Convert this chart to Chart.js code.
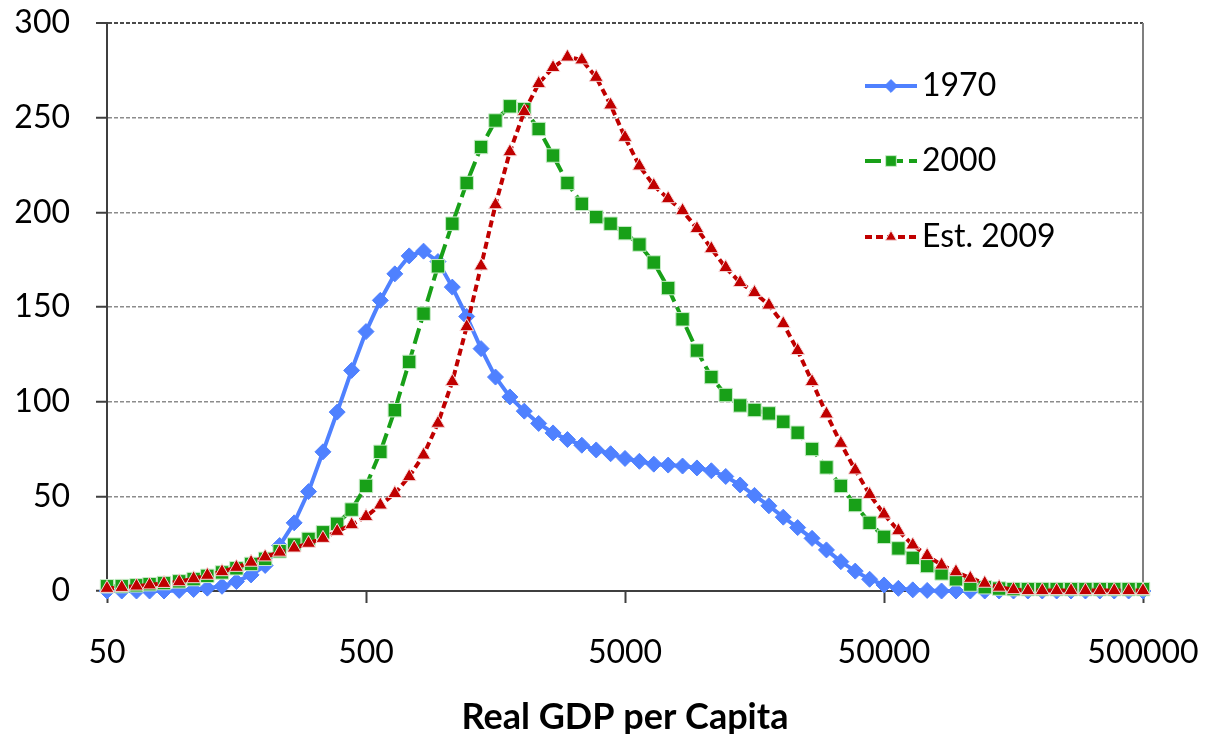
<!DOCTYPE html>
<html>
<head>
<meta charset="utf-8">
<title>Distribution of Real GDP per Capita</title>
<script src="https://cdn.jsdelivr.net/npm/chart.js@4.4.1/dist/chart.umd.min.js"></script>
<style>
  html, body { margin: 0; padding: 0; background: #ffffff; }
  #wrap { width: 1205px; height: 734px; position: relative; }
</style>
</head>
<body>
<div id="wrap"><canvas id="chart" width="1205" height="734"></canvas></div>
<script>
// Income levels (log-spaced, 18 steps per decade)
const gdpPerCapita = [
  50, 57, 65, 73, 83, 95, 108, 122, 139, 158, 180, 204, 232, 264, 300, 341, 387, 440,
  500, 568, 646, 734, 834, 948, 1077, 1224, 1391, 1581, 1797, 2042, 2321, 2637, 2997, 3406, 3871, 4400,
  5000, 5683, 6458, 7339, 8340, 9479, 10772, 12242, 13913, 15811, 17969, 20421, 23208, 26375, 29974, 34064, 38713, 43996,
  50000, 56826, 64575, 73389, 83405, 94787, 107722, 122421, 139128, 158114, 179691, 204212, 232079, 263748, 299740, 340641, 387128, 439959,
  500000
];

// Density of people at each income level
const density1970 = [
  0, 0, 0, 0, 0, 0.3, 0.8, 1.5, 2.5, 5, 8.5, 13.5, 24, 36, 52.5, 73.5, 94.5, 116.5,
  137, 153.5, 167.5, 177, 179.5, 174, 160.5, 145, 128, 113, 102.5, 95, 88.5, 83.5, 80, 77, 74.5, 72.5,
  70, 68.5, 67, 66.5, 66, 65, 63.5, 60.5, 56, 50.5, 45, 39, 33.5, 27.8, 21.7, 15.5, 10.5, 6.2,
  3.2, 1.4, 0.6, 0.3, 0, 0, 0, 0, 0, 0, 0, 0, 0, 0, 0, 0, 0, 0,
  0
];

const density2000 = [
  2.5, 2.6, 3.0, 3.6, 4.2, 5.1, 6.3, 8, 9.8, 12, 14.3, 17, 21, 24.5, 27.5, 31, 35.5, 43,
  55.5, 73.5, 95.5, 121, 146.5, 171.5, 194, 215.5, 234.5, 248.5, 256, 254.5, 244, 230, 215.5, 204.5, 197.5, 194,
  189, 183, 173.5, 160, 143.5, 127, 113, 103.5, 98, 95.6, 93.8, 89.4, 83.6, 75, 65.3, 55.5, 45.4, 36,
  28.6, 22.5, 17.5, 13.2, 9.3, 6.2, 3.4, 2, 1.3, 1, 1, 1, 1, 1, 1, 1, 1, 1,
  1
];

const density2009 = [
  1.4, 1.9, 2.6, 3.2, 4.0, 4.9, 6.5, 8.3, 10.2, 12.5, 15.2, 18, 20.5, 22.7, 25.2, 27.8, 31.5, 35,
  39.3, 45.4, 51.5, 60.4, 71.8, 88.6, 110.6, 139.6, 171.7, 204, 232, 253.2, 268, 276.5, 282, 280.5, 271.3, 256.7,
  239.6, 224.5, 214.2, 207.2, 200.9, 191.4, 180.8, 170.8, 162.9, 157.6, 151, 141.2, 127, 110.6, 93.5, 78, 63.9, 51,
  40.6, 31.8, 24.3, 18.7, 13.7, 10.2, 6.7, 4.1, 2.0, 0.7, 0.2, 0.2, 0.2, 0.2, 0.2, 0.2, 0.2, 0.2,
  0.2
];

const seriesNames = ['1970', '2000', 'Est. 2009'];
const xTickValues = [50, 500, 5000, 50000, 500000];
const yTickValues = [0, 50, 100, 150, 200, 250, 300];
const xAxisTitle = 'Real GDP per Capita';

const FONT = 'Lato, Carlito, "Open Sans", sans-serif';
const AXIS_COLOR = '#3f3f3f';

function toPoints(values) {
  return gdpPerCapita.map((g, i) => ({ x: g, y: values[i] }));
}

// Plot frame on the right side of the plotting area
const frameRight = {
  id: 'frameRight',
  beforeDatasetsDraw(chart) {
    const { ctx, chartArea } = chart;
    ctx.save();
    ctx.strokeStyle = '#7f7f7f';
    ctx.lineWidth = 2;
    ctx.beginPath();
    ctx.moveTo(chartArea.right, chartArea.top);
    ctx.lineTo(chartArea.right, chartArea.bottom);
    ctx.stroke();
    ctx.restore();
  }
};

// Legend drawn inside the plotting area, upper right, in series order
const insideLegend = {
  id: 'insideLegend',
  afterDatasetsDraw(chart, args, opts) {
    const { ctx } = chart;
    ctx.save();
    seriesNames.forEach((name, row) => {
      const ds = chart.data.datasets.find(d => d.label === name);
      const y = opts.rows[row];
      ctx.strokeStyle = ds.borderColor;
      ctx.lineWidth = ds.borderWidth;
      ctx.setLineDash(ds.borderDash || []);
      ctx.lineCap = 'butt';
      ctx.beginPath();
      ctx.moveTo(opts.x0, y);
      ctx.lineTo(opts.x1, y);
      ctx.stroke();
      ctx.setLineDash([]);
      ctx.fillStyle = ds.pointBackgroundColor;
      ctx.strokeStyle = ds.pointBorderColor;
      ctx.lineWidth = ds.pointBorderWidth;
      Chart.helpers.drawPoint(ctx, {
        pointStyle: ds.pointStyle,
        radius: ds.pointRadius * 0.8,
        borderWidth: ds.pointBorderWidth,
        rotation: 0
      }, (opts.x0 + opts.x1) / 2, y);
      ctx.fillStyle = '#000000';
      ctx.font = '32px ' + FONT;
      ctx.textBaseline = 'middle';
      ctx.textAlign = 'left';
      ctx.fillText(ds.label, opts.textX, y);
    });
    ctx.restore();
  }
};

function build() {
  const ctx = document.getElementById('chart').getContext('2d');
  new Chart(ctx, {
    type: 'line',
    data: {
      datasets: [
        {
          label: seriesNames[2],
          data: toPoints(density2009),
          borderColor: '#c00000',
          borderWidth: 4,
          borderDash: [7, 4],
          pointStyle: 'triangle',
          pointRadius: 8,
          pointBackgroundColor: '#c00000',
          pointBorderColor: '#f6d9d9',
          pointBorderWidth: 1,
          tension: 0,
          clip: false,
          order: 0
        },
        {
          label: seriesNames[1],
          data: toPoints(density2000),
          borderColor: '#18a018',
          borderWidth: 4,
          borderDash: [16, 6],
          pointStyle: 'rect',
          pointRadius: 9.5,
          pointBackgroundColor: '#18a018',
          pointBorderColor: '#c9ecc9',
          pointBorderWidth: 1,
          tension: 0,
          clip: false,
          order: 1
        },
        {
          label: seriesNames[0],
          data: toPoints(density1970),
          borderColor: '#4f81ff',
          borderWidth: 4,
          borderDash: [],
          pointStyle: 'rectRot',
          pointRadius: 8,
          pointBackgroundColor: '#4f81ff',
          pointBorderColor: '#4f81ff',
          pointBorderWidth: 1,
          tension: 0,
          clip: false,
          order: 2
        }
      ]
    },
    options: {
      responsive: false,
      animation: false,
      devicePixelRatio: 1,
      layout: { padding: { top: 23, right: 62, left: 0, bottom: 0 } },
      plugins: {
        legend: { display: false },
        tooltip: { enabled: false },
        insideLegend: { x0: 865, x1: 917, textX: 922, rows: [86, 161, 237] }
      },
      scales: {
        x: {
          type: 'logarithmic',
          min: 50,
          max: 500000,
          afterBuildTicks: (axis) => { axis.ticks = xTickValues.map(v => ({ value: v })); },
          afterFit: (s) => { s.height = 143; s.paddingLeft = 0; s.paddingRight = 0; },
          ticks: {
            callback: (v) => String(v),
            font: { family: FONT, size: 32 },
            color: '#000000',
            padding: 30,
            maxRotation: 0,
            autoSkip: false
          },
          grid: {
            drawOnChartArea: false,
            drawTicks: true,
            tickLength: 12,
            tickColor: AXIS_COLOR,
            tickWidth: 2
          },
          border: { display: true, color: AXIS_COLOR, width: 2 },
          title: {
            display: true,
            text: xAxisTitle,
            font: { family: FONT, size: 36, weight: 'bold', lineHeight: 0.95 },
            color: '#000000',
            padding: { top: 0, bottom: 0 }
          }
        },
        y: {
          min: 0,
          max: 300,
          afterBuildTicks: (axis) => { axis.ticks = yTickValues.map(v => ({ value: v })); },
          afterFit: (s) => { s.width = 107; s.paddingTop = 0; s.paddingBottom = 0; },
          ticks: {
            font: { family: FONT, size: 32 },
            color: '#000000',
            padding: 26
          },
          grid: {
            color: (c) => (c.tick && c.tick.value === 300) ? '#4a4a4a' : '#8c8c8c',
            lineWidth: (c) => (c.tick && c.tick.value === 300) ? 2 : 1.5,
            tickLength: 11,
            tickColor: AXIS_COLOR,
            tickWidth: 2,
            tickBorderDash: []
          },
          border: { display: true, color: AXIS_COLOR, width: 2, dash: [4, 2] }
        }
      }
    },
    plugins: [frameRight, insideLegend]
  });
}

const fontLoads = document.fonts
  ? Promise.all([document.fonts.load('32px Lato'), document.fonts.load('bold 36px Lato')]).catch(() => {})
  : Promise.resolve();
fontLoads.then(build);
</script>
</body>
</html>
